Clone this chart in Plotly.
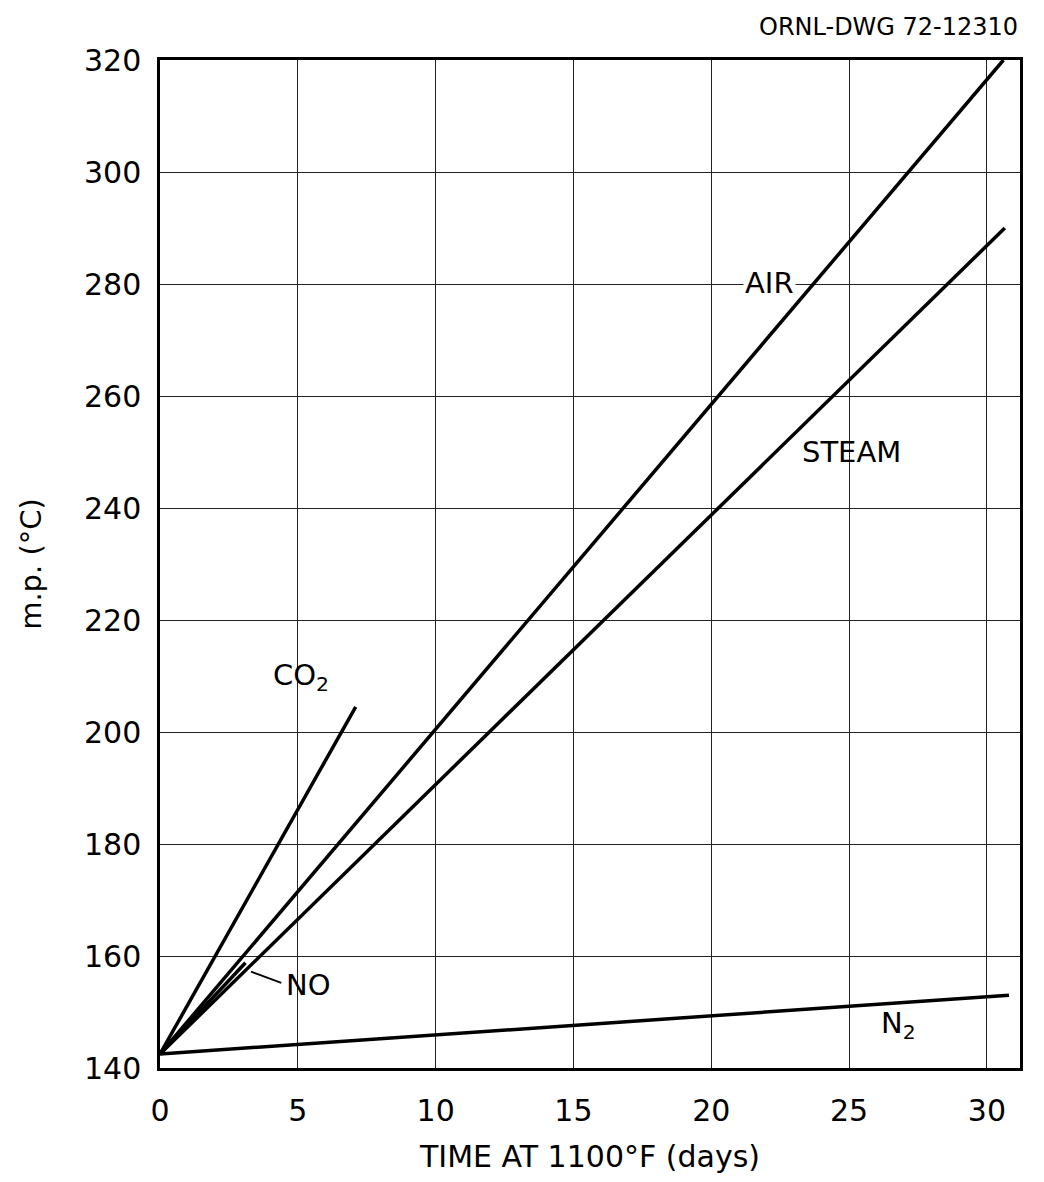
import plotly.graph_objects as go

# Data
series_names = ["AIR", "STEAM", "CO2", "NO", "N2"]
air_x = [0, 30.6]
air_y = [142.5, 320]
steam_x = [0, 30.65]
steam_y = [142.5, 290]
co2_x = [0, 7.1]
co2_y = [142.5, 204.5]
no_x = [0, 3.1]
no_y = [142.5, 158.8]
n2_x = [0, 30.8]
n2_y = [142.5, 153]

x_ticks = [0, 5, 10, 15, 20, 25, 30]
y_ticks = [140, 160, 180, 200, 220, 240, 260, 280, 300, 320]

FONT = "DejaVu Sans"
fig = go.Figure()
line = dict(color="black", width=3.5)
for xs, ys in [(air_x, air_y), (steam_x, steam_y), (co2_x, co2_y), (no_x, no_y), (n2_x, n2_y)]:
    fig.add_trace(go.Scatter(x=xs, y=ys, mode="lines", line=line, showlegend=False, hoverinfo="skip"))

# leader line for NO
fig.add_trace(go.Scatter(x=[3.3, 4.4], y=[157.2, 155.2], mode="lines",
                         line=dict(color="black", width=1.8), showlegend=False, hoverinfo="skip"))

labels = [
    (22.1, 280.2, "AIR", True),
    (25.1, 250, "STEAM", False),
    (5.1, 209.8, "CO<sub>2</sub>", False),
    (5.4, 154.8, "NO", False),
    (26.8, 147.7, "N<sub>2</sub>", False),
]
for x, y, t, bg in labels:
    fig.add_annotation(x=x, y=y, text=t, showarrow=False,
                       font=dict(family=FONT, size=29, color="black"),
                       bgcolor="white" if bg else "rgba(0,0,0,0)")

fig.add_annotation(xref="paper", yref="paper", x=1.0, y=1.0, yshift=33, xanchor="right",
                   yanchor="middle", text="ORNL-DWG 72-12310", showarrow=False,
                   font=dict(family=FONT, size=24, color="black"))

fig.update_layout(
    width=1044, height=1182,
    margin=dict(l=152, r=32, t=52, b=122),
    plot_bgcolor="white", paper_bgcolor="white",
    font=dict(family=FONT, size=30, color="black"),
    xaxis=dict(range=[0, 31.2], tickvals=x_ticks, showgrid=True, gridcolor="#222", gridwidth=1.4,
               zeroline=False, showline=True, linecolor="black", linewidth=2.5, mirror=True,
               ticks="", tickfont=dict(family=FONT, size=30), ticklabelstandoff=14,
               title=dict(text="TIME AT 1100°F (days)", font=dict(family=FONT, size=30), standoff=20)),
    yaxis=dict(range=[140, 320], tickvals=y_ticks, showgrid=True, gridcolor="#222", gridwidth=1.4,
               zeroline=False, showline=True, linecolor="black", linewidth=2.5, mirror=True,
               ticks="", tickfont=dict(family=FONT, size=30), ticklabelstandoff=10,
               title=dict(text="m.p. (°C)", font=dict(family=FONT, size=29), standoff=34)),
)

fig.write_html("out.html")
